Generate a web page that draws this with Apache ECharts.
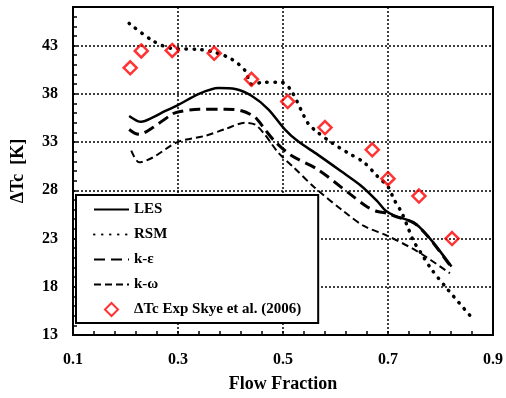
<!DOCTYPE html>
<html>
<head>
<meta charset="utf-8">
<script src="https://cdn.jsdelivr.net/npm/echarts@6/dist/echarts.min.js"></script>
<style>
  html, body { margin: 0; padding: 0; background: #fff; }
  #chart { width: 506px; height: 398px; }
</style>
</head>
<body>
<div id="chart"></div>
<script>
// LES
const lesX = [0.207, 0.222, 0.230, 0.252, 0.275, 0.299, 0.340, 0.377, 0.409, 0.440, 0.472, 0.503, 0.528, 0.566, 0.610, 0.648, 0.679, 0.695, 0.711, 0.748, 0.767, 0.786, 0.821];
const lesY = [35.7, 35.2, 35.1, 35.55, 36.2, 36.8, 38.0, 38.6, 38.5, 37.8, 36.4, 34.35, 33.1, 31.7, 30.0, 28.5, 26.9, 25.9, 25.4, 24.7, 23.8, 22.6, 20.1];

// RSM
const rsmX = [0.207, 0.252, 0.289, 0.340, 0.370, 0.402, 0.428, 0.440, 0.465, 0.497, 0.516, 0.547, 0.566, 0.591, 0.623, 0.654, 0.679, 0.701, 0.711, 0.726, 0.739, 0.748, 0.764, 0.783, 0.811, 0.858];
const rsmY = [45.3, 43.5, 42.7, 42.6, 42.3, 41.6, 40.4, 39.0, 39.2, 39.2, 38.3, 35.0, 34.0, 33.0, 31.9, 30.9, 29.5, 28.3, 27.1, 25.7, 24.0, 22.8, 21.4, 19.8, 17.9, 14.9];

// k-epsilon
const keX = [0.207, 0.218, 0.226, 0.252, 0.289, 0.302, 0.340, 0.390, 0.421, 0.447, 0.465, 0.484, 0.516, 0.565, 0.628, 0.660, 0.680, 0.700, 0.711, 0.748, 0.767, 0.786, 0.821];
const keY = [34.3, 33.9, 33.8, 34.5, 35.9, 36.15, 36.4, 36.4, 36.25, 35.55, 34.35, 33.1, 31.6, 30.2, 27.6, 26.3, 25.8, 25.6, 25.35, 24.65, 23.75, 22.55, 20.0];

// k-omega
const kwX = [0.211, 0.226, 0.252, 0.299, 0.352, 0.390, 0.428, 0.447, 0.465, 0.491, 0.520, 0.560, 0.616, 0.654, 0.698, 0.755, 0.818];
const kwY = [32.1, 30.9, 31.4, 33.0, 33.65, 34.35, 35.0, 34.8, 33.8, 31.9, 30.4, 28.3, 25.8, 24.3, 23.3, 21.7, 19.4];

// experiment, Skye et al. (2006)
const expX = [0.209, 0.230, 0.289, 0.369, 0.440, 0.509, 0.580, 0.670, 0.700, 0.759, 0.822];
const expY = [40.7, 42.45, 42.5, 42.2, 39.5, 37.2, 34.5, 32.2, 29.2, 27.4, 23.0];

// ticks
const xTickLabels = [0.1, 0.3, 0.5, 0.7, 0.9];
const xSmallTicks = [0.1, 0.14, 0.18, 0.22, 0.26, 0.3, 0.34, 0.38, 0.42, 0.46, 0.5, 0.54, 0.58, 0.62, 0.66, 0.7, 0.74, 0.78, 0.82, 0.86, 0.9];
const yTickLabels = [13, 18, 23, 28, 33, 38, 43];

const pairs = (xs, ys) => xs.map((x, i) => [x, ys[i]]);

const font = 'Liberation Serif';
const txt = { fontFamily: font, fontWeight: 'bold', color: '#000' };
const noDot = { color: 'rgba(0,0,0,0)' }; // hides the circle line series put in legend icons

const chart = echarts.init(document.getElementById('chart'));

const option = {
  animation: false,
  backgroundColor: '#fff',
  grid: {
    left: 73, right: 8, top: 7, bottom: 62,
    show: true, borderColor: '#000', borderWidth: 2
  },
  legend: {
    orient: 'vertical',
    left: 76, top: 195,
    backgroundColor: '#fff',
    borderColor: '#000', borderWidth: 2,
    padding: [7, 17, 6, 17],
    itemGap: 10,
    itemWidth: 35, itemHeight: 13,
    textStyle: Object.assign({ fontSize: 15 }, txt),
    data: [
      'LES', 'RSM', 'k-ε', 'k-ω',
      { name: 'ΔTc Exp Skye et al. (2006)', icon: 'path://M6,0L12,6L6,12L0,6Z' }
    ]
  },
  xAxis: [
    {
      type: 'value', min: 0.1, max: 0.9, position: 'bottom',
      axisLine: { show: true, onZero: false, lineStyle: { color: '#000', width: 2 } },
      axisTick: { show: true, inside: true, length: 4, customValues: xSmallTicks, lineStyle: { color: '#000', width: 1.5 } },
      axisLabel: { show: false },
      splitLine: { show: false }
    },
    {
      type: 'value', min: 0.1, max: 0.9, position: 'bottom',
      axisLine: { show: false, onZero: false },
      axisTick: { show: false, customValues: xTickLabels },
      axisLabel: Object.assign({ customValues: xTickLabels, margin: 17, fontSize: 16, formatter: v => v.toFixed(1) }, txt),
      splitLine: { show: true, lineStyle: { color: '#000', width: 1.5, type: [2, 2] } },
      name: 'Flow Fraction', nameLocation: 'middle', nameGap: 40,
      nameTextStyle: Object.assign({ fontSize: 18 }, txt)
    }
  ],
  yAxis: [
    {
      type: 'value', min: 13, max: 47, interval: 1,
      axisLine: { show: true, onZero: false, lineStyle: { color: '#000', width: 2 } },
      axisTick: { show: true, inside: true, length: 4, lineStyle: { color: '#000', width: 1.5 } },
      axisLabel: { show: false },
      splitLine: { show: false }
    },
    {
      type: 'value', min: 13, max: 47, position: 'left',
      axisLine: { show: false, onZero: false },
      axisTick: { show: false, customValues: yTickLabels },
      axisLabel: Object.assign({ customValues: yTickLabels, margin: 15, fontSize: 16 }, txt),
      splitLine: { show: true, lineStyle: { color: '#000', width: 1.5, type: [2, 2] } },
      name: 'ΔTc  [K]', nameLocation: 'middle', nameGap: 46, nameRotate: 90,
      nameTextStyle: Object.assign({ fontSize: 18 }, txt)
    }
  ],
  series: [
    {
      name: 'LES', type: 'line', smooth: 0.3, symbol: 'none',
      lineStyle: { color: '#000', width: 2.5 },
      itemStyle: noDot,
      data: pairs(lesX, lesY)
    },
    {
      name: 'RSM', type: 'line', smooth: 0.3, symbol: 'none',
      lineStyle: { color: '#000', width: 3.5, type: [0.5, 7.5], cap: 'round' },
      itemStyle: noDot,
      data: pairs(rsmX, rsmY)
    },
    {
      name: 'k-ε', type: 'line', smooth: 0.3, symbol: 'none',
      lineStyle: { color: '#000', width: 3, type: [11, 6] },
      itemStyle: noDot,
      data: pairs(keX, keY)
    },
    {
      name: 'k-ω', type: 'line', smooth: 0.3, symbol: 'none',
      lineStyle: { color: '#000', width: 2, type: [7, 4] },
      itemStyle: noDot,
      data: pairs(kwX, kwY)
    },
    {
      name: 'ΔTc Exp Skye et al. (2006)', type: 'scatter',
      symbol: 'diamond', symbolSize: 13, z: 5,
      itemStyle: { color: 'rgba(0,0,0,0)', borderColor: '#f00', borderWidth: 2.5 },
      data: pairs(expX, expY)
    }
  ]
};

chart.setOption(option);
</script>
</body>
</html>
